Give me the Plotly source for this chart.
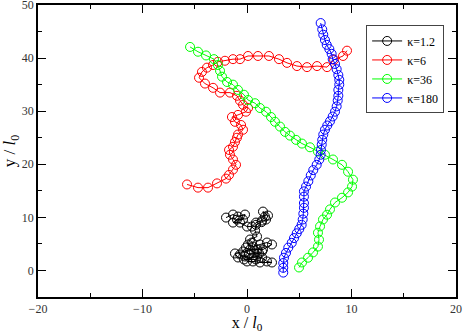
#!/usr/bin/env python3
# Trajectories of semiflexible filaments for several stiffness values (kappa).
import plotly.graph_objects as go

# ── Data (units of l0) ────────────────────────────────────────────────────────
black_x = [-2.01, -1.34, -0.86, -0.19, -0.38, -0.96, -1.34, -0.67, 0.00, 0.48,
           0.86, 1.44, 1.72, 1.53, 2.01, 1.82, 1.40, 0.86, 0.77, 0.96,
           0.29, 0.10, 0.57, 1.24, 1.91, 2.39, 1.53, 0.96, 0.29, -0.38,
           -1.15, -0.86, -0.19, 0.48, 0.96, 1.44, 1.91, 2.39, 1.24, 0.57,
           0.00, -0.67, -0.10, 0.67, 1.15, 0.19, -0.29, 0.86, 1.44, 0.48]
black_y = [9.96, 10.53, 10.15, 10.53, 9.59, 9.59, 9.02, 9.02, 8.27, 8.27,
           9.02, 9.40, 10.15, 11.09, 10.34, 9.59, 9.10, 8.60, 7.52, 6.39,
           5.83, 4.89, 4.51, 4.89, 5.26, 4.89, 3.95, 3.95, 3.95, 3.57,
           3.20, 2.44, 2.63, 2.44, 2.63, 2.44, 1.69, 1.50, 1.50, 1.69,
           1.69, 3.01, 4.32, 3.38, 3.20, 3.01, 2.07, 2.07, 3.57, 5.26]

red_x = [-5.74, -4.69, -3.73, -2.87, -2.01, -1.72, -1.34, -1.05, -1.34, -1.63,
         -1.72, -1.34, -1.15, -0.96, -0.86, -0.38, -0.57, -1.15, -1.44, -0.86,
         -0.10, 0.10, -0.38, -0.67, -0.96, -1.63, -2.58, -3.25, -4.02, -4.59,
         -4.31, -3.83, -3.25, -2.78, -2.11, -1.34, -0.67, 0.10, 1.05, 2.10,
         3.06, 3.83, 4.78, 5.74, 6.70, 7.66, 8.33, 9.19, 9.57]
red_y = [16.2, 15.6, 15.6, 16.4, 17.3, 18.0, 19.0, 19.9, 20.9, 21.8,
         22.7, 23.3, 24.2, 25.0, 25.6, 26.5, 27.4, 28.0, 28.9, 29.3,
         29.9, 30.6, 31.2, 32.0, 32.9, 33.5, 33.5, 34.4, 35.2, 36.3,
         37.4, 38.2, 38.7, 39.3, 39.5, 39.8, 39.8, 40.4, 40.4, 40.4,
         39.8, 39.1, 38.5, 38.3, 38.5, 38.3, 39.7, 40.4, 41.4]

green_x = [-5.45, -4.69, -3.92, -3.16, -2.78, -2.58, -2.39, -1.91, -1.34, -0.86,
           -0.29, 0.10, 0.77, 1.24, 1.82, 2.30, 2.68, 3.16, 3.64, 4.11,
           4.69, 5.26, 6.03, 6.79, 7.46, 8.23, 9.09, 9.67, 10.14, 10.05,
           9.67, 9.09, 8.42, 7.94, 7.66, 7.27, 6.99, 6.79, 6.89, 6.79,
           6.32, 5.84, 5.26, 4.98]
green_y = [42.1, 41.2, 40.5, 39.8, 38.7, 37.6, 36.5, 35.5, 35.0, 34.0,
           33.1, 32.1, 31.5, 30.6, 29.9, 28.9, 28.0, 27.1, 26.1, 25.4,
           24.6, 23.9, 23.2, 22.4, 21.8, 20.9, 19.9, 18.6, 17.1, 15.8,
           14.7, 13.7, 12.8, 11.5, 10.5, 9.6, 8.3, 7.1, 5.8, 4.5,
           3.4, 2.4, 1.5, 0.56]

blue_x = [7.05, 7.20, 7.30, 7.46, 7.63, 7.88, 8.10, 8.20, 8.42, 8.58,
          8.74, 8.83, 8.83, 8.74, 8.74, 8.68, 8.58, 8.42, 8.20, 7.94,
          7.68, 7.46, 7.30, 7.20, 7.15, 7.08, 7.05, 6.92, 6.67, 6.34,
          6.10, 5.87, 5.65, 5.45, 5.45, 5.45, 5.45, 5.39, 5.33, 5.23,
          5.00, 4.76, 4.50, 4.28, 3.95, 3.73, 3.54, 3.47, 3.47, 3.47]
blue_y = [46.6, 45.4, 44.4, 43.4, 42.5, 41.7, 40.8, 39.8, 38.9, 37.9,
          36.8, 35.9, 35.0, 34.0, 32.9, 32.0, 30.9, 29.9, 29.0, 28.1,
          27.3, 26.5, 25.6, 24.6, 23.7, 22.7, 21.8, 20.9, 19.9, 18.9,
          17.9, 16.8, 15.8, 14.9, 13.9, 12.7, 11.8, 10.7, 9.6, 8.6,
          7.8, 7.0, 6.1, 5.2, 4.3, 3.3, 2.4, 1.4, 0.5, -0.4]

series = [
    ("κ=1.2", black_x, black_y, "#000000"),
    ("κ=6",   red_x,   red_y,   "#ff0000"),
    ("κ=36",  green_x, green_y, "#00ff00"),
    ("κ=180", blue_x,  blue_y,  "#0000ff"),
]

FONT = "Liberation Serif, Times New Roman, serif"

fig = go.Figure()
for name, xs, ys, col in series:
    fig.add_trace(go.Scatter(
        x=xs, y=ys, mode="lines+markers", name=name,
        line=dict(color=col, width=1),
        marker=dict(symbol="circle-open", size=9, color=col, line=dict(width=1, color=col)),
    ))

axis_common = dict(
    showline=True, linecolor="black", linewidth=1.5, mirror="ticks",
    ticks="inside", ticklen=8, tickwidth=1, tickcolor="black",
    showgrid=False, zeroline=False, automargin=False, ticklabeloverflow="allow",
    tickfont=dict(family=FONT, size=12, color="#333333"),
    minor=dict(ticks="inside", ticklen=4, dtick=5, tickcolor="black", showgrid=False),
)

fig.update_xaxes(range=[-20, 20], dtick=10, tick0=0,
                 title=dict(text="x / <i>l</i><sub>0</sub>", standoff=5,
                            font=dict(family=FONT, size=16, color="black")),
                 **axis_common)
fig.update_yaxes(range=[-5, 50], dtick=10, tick0=0,
                 title=dict(text="y / <i>l</i><sub>0</sub>", standoff=4,
                            font=dict(family=FONT, size=17, color="black")),
                 **axis_common)

fig.update_layout(
    width=463, height=333,
    margin=dict(l=38, r=7, t=5, b=36),
    paper_bgcolor="white", plot_bgcolor="white",
    font=dict(family=FONT, color="black"),
    legend=dict(
        x=0.785, y=0.93, xanchor="left", yanchor="top",
        bgcolor="white", bordercolor="#444444", borderwidth=1,
        font=dict(family=FONT, size=12, color="black"),
        tracegroupgap=0, itemwidth=30,
    ),
    showlegend=True,
)

# page has a default body margin; drop it so the figure sits at the window origin
fig.write_html("out.html", config={"displayModeBar": False},
               post_script="document.body.style.margin='0';")
